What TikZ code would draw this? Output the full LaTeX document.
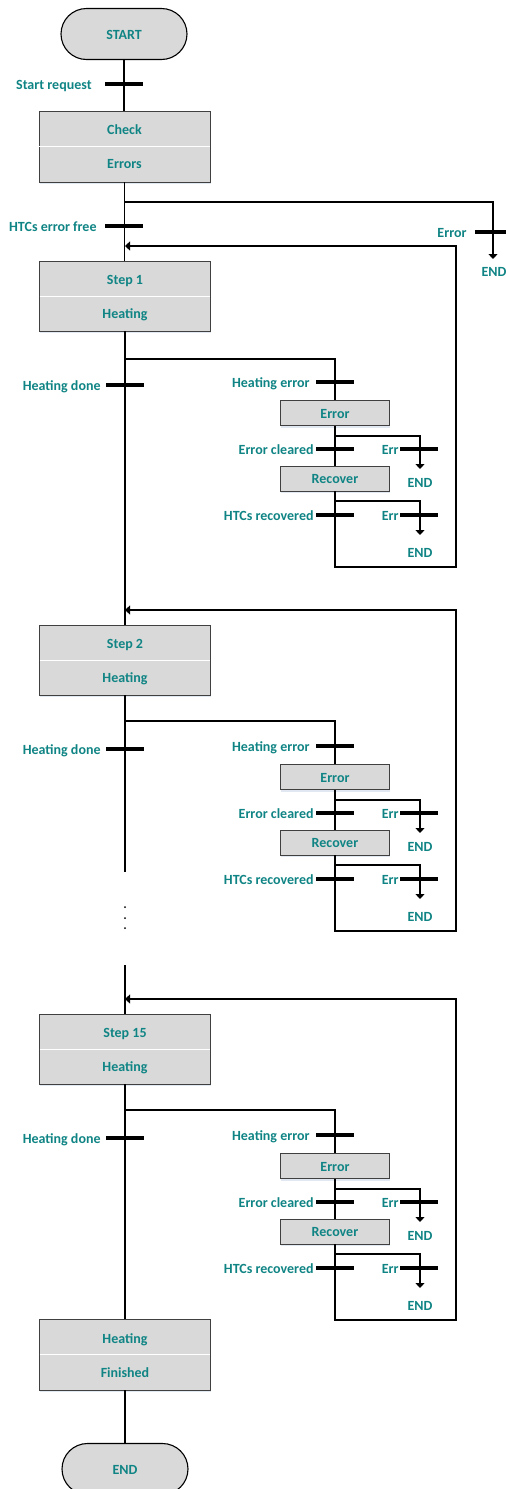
\documentclass[tikz,border=0pt]{standalone}
\usepackage{fontspec}
\setmainfont{Carlito}
\usetikzlibrary{shadows,arrows.meta}
\definecolor{tl}{RGB}{16,132,132}
\definecolor{bx}{RGB}{217,217,217}
\definecolor{shc}{RGB}{170,190,215}
\newcommand\grp[4]{%
  % #1 name, #2 box top, #3 step title, #4 branch offset
  \node[boxx, minimum width=171pt, minimum height=70pt] (#1) at (125,{#2+35}) {};
  \draw[white, line width=1pt] ([xshift=0.6pt]#1.west) -- ([xshift=-0.6pt]#1.east);
  \node[lbl] (#1ta) at (125,{#2+18}) {#3};
  \node[lbl] (#1tb) at (125,{#2+52}) {Heating};
  \coordinate (#1br) at (125,{#2+#4});
  \node[bar] (#1hd) at (125,{#2+124}) {};
  \node[lbl, anchor=east] (#1hdl) at ([xshift=-5pt]#1hd.west) {Heating done};
  \node[bar] (#1he) at (335,{#2+121}) {};
  \node[lbl, anchor=east] (#1hel) at ([xshift=-6pt]#1he.west) {Heating error};
  \node[boxx, minimum width=109pt, minimum height=25pt] (#1e) at (335,{#2+152}) {};
  \node[lbl] (#1et) at (#1e.center) {Error};
  \coordinate (#1eb) at (335,{#2+175});
  \coordinate (#1t1) at (420,{#2+208});
  \node[bar] (#1ec) at (335,{#2+188}) {};
  \node[lbl, anchor=east] (#1ecl) at ([xshift=-2pt]#1ec.west) {Error cleared};
  \node[bar] (#1x1) at (419,{#2+188}) {};
  \node[lbl, anchor=east] (#1x1l) at ([xshift=-1pt]#1x1.west) {Err};
  \node[lbl] (#1n1) at (420,{#2+221}) {END};
  \node[boxx, minimum width=109pt, minimum height=25pt] (#1r) at (335,{#2+217.5}) {};
  \node[lbl] (#1rt) at (#1r.center) {Recover};
  \coordinate (#1rb) at (335,{#2+240});
  \coordinate (#1t2) at (420,{#2+274});
  \node[bar] (#1hr) at (335,{#2+254}) {};
  \node[lbl, anchor=east] (#1hrl) at ([xshift=-2pt]#1hr.west) {HTCs recovered};
  \node[bar] (#1x2) at (419,{#2+254}) {};
  \node[lbl, anchor=east] (#1x2l) at ([xshift=-1pt]#1x2.west) {Err};
  \node[lbl] (#1n2) at (420,{#2+291}) {END};
  \coordinate (#1lb) at (335,{#2+306});
  \coordinate (#1lt) at (456,{#2-15});
  \coordinate (#1la) at (125,{#2-15});
  \draw[ln] (#1br) -| (#1e.north);
  \draw[ln] (#1e.south) -- (#1r.north);
  \draw[ln, arr] (#1eb) -| (#1t1);
  \draw[ln, arr] (#1rb) -| (#1t2);
  \draw[ln, arr] (#1r.south) -- (#1lb) -| (#1lt) -- (#1la);
}
\begin{document}
\begin{tikzpicture}[x=1pt,y=-1pt,
  lbl/.style={font=\fontsize{14}{16}\selectfont\bfseries, text=tl, inner sep=0pt, text height=9pt, text depth=0pt, yshift=-0.8pt},
  boxx/.style={draw=black!75, line width=0.9pt, fill=bx, inner sep=0pt,
    drop shadow={shadow xshift=0.8pt, shadow yshift=-2pt, fill=shc, opacity=0.35}},
  term/.style={draw=black, line width=1.1pt, fill=bx, minimum width=126pt, minimum height=51pt, rounded corners=25.5pt, inner sep=0pt},
  bar/.style={fill=black, draw=none, minimum width=38pt, minimum height=4pt, inner sep=0pt},
  ln/.style={line width=1.1pt, draw=black},
  arr/.style={-{Triangle[length=5pt,width=9pt]}}]
\useasboundingbox (0,0) rectangle (506,1489);
% top
\node[term] (start) at (124,34) {};
\node[lbl] (startt) at (start.center) {START};
\node[bar] (srb) at (124,84) {};
\node[lbl, anchor=east] (srl) at ([xshift=-13pt]srb.west) {Start request};
\node[boxx, minimum width=171pt, minimum height=71pt] (chk) at (124.5,146.5) {};
\draw[white, line width=1pt] ([xshift=0.6pt]chk.west) -- ([xshift=-0.6pt]chk.east);
\node[lbl] (chka) at (124.5,129) {Check};
\node[lbl] (chkb) at (124.5,163) {Errors};
\coordinate (tb) at (125,202);
\coordinate (tt) at (493,259);
\node[bar] (efb) at (124,226) {};
\node[lbl, anchor=east] (efl) at ([xshift=-8pt]efb.west) {HTCs error free};
\node[bar] (teb) at (494,232) {};
\node[lbl, anchor=east] (tel) at ([xshift=-8pt]teb.west) {Error};
\node[lbl] (ten) at (494,271) {END};
\draw[ln, arr] (tb) -| (tt);
% groups
\grp{sa}{261}{Step 1}{98}
\grp{sb}{625}{Step 2}{96}
\grp{sc}{1014}{Step 15}{96}
% finish
\node[boxx, minimum width=171pt, minimum height=71pt] (fin) at (125,1354.5) {};
\draw[white, line width=1pt] ([xshift=0.6pt]fin.west) -- ([xshift=-0.6pt]fin.east);
\node[lbl] (fina) at (125,1338) {Heating};
\node[lbl] (finb) at (125,1372) {Finished};
\node[term] (end) at (125,1469) {};
\node[lbl] (endt) at (end.center) {END};
% main line
\coordinate (gapa) at (125,872);
\coordinate (gapb) at (125,965);
\draw[ln] (start.south) -- (start.south |- chk.north);
\draw[ln] (chk.south) -- (chk.south |- sa.north);
\draw[ln] (sa.south) -- (sb.north);
\draw[ln] (sb.south) -- (gapa);
\draw[ln] (gapb) -- (sc.north);
\draw[ln] (sc.south) -- (fin.north);
\draw[ln] (fin.south) -- (end.north);
\foreach \yy [count=\i] in {907,918,928} \fill (125,\yy) circle (1pt) coordinate (dot\i);
\end{tikzpicture}
\end{document}
